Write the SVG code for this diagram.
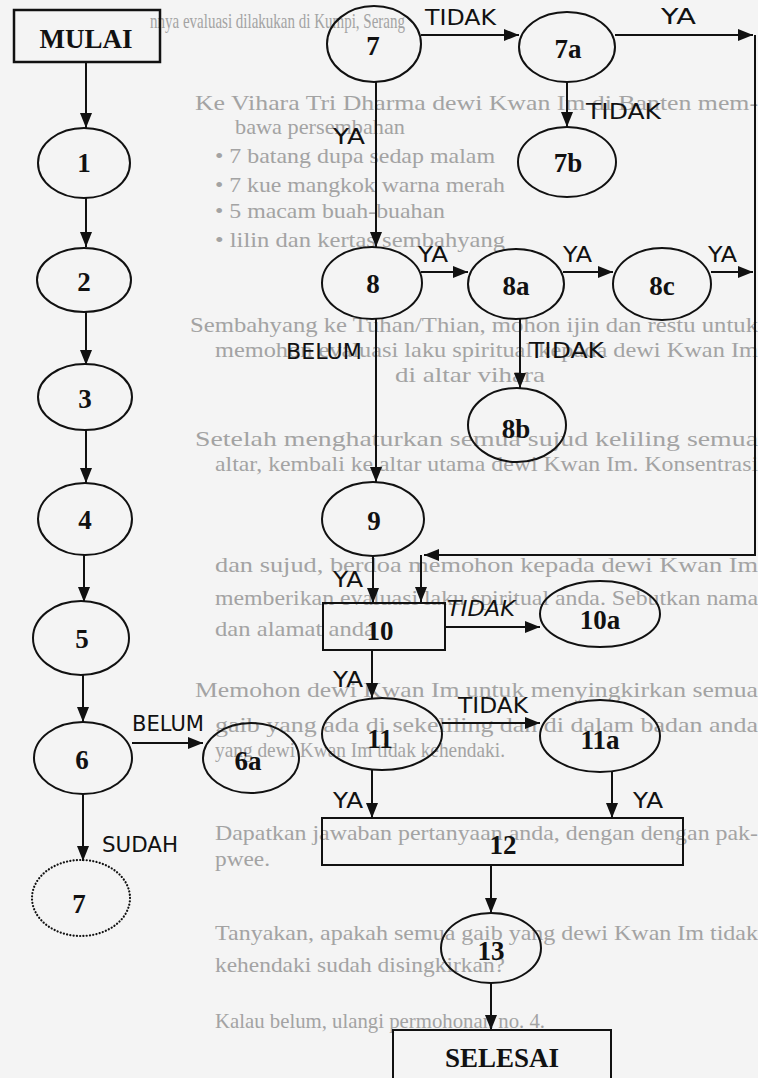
<svg xmlns="http://www.w3.org/2000/svg" width="758" height="1078" viewBox="0 0 758 1078">
<style>
.bgm{font-family:"Liberation Serif",serif;font-size:22px;fill:#a3a3a3}
.n{fill:none;stroke:#111;stroke-width:2}
.nl{font-family:"Liberation Serif",serif;font-weight:bold;font-size:27px;fill:#111;text-anchor:middle}
.el{font-family:"DejaVu Sans",sans-serif;font-size:22px;fill:#111}
.c{fill:none;stroke:#111;stroke-width:2}
</style>
<defs>
<marker id="ah" markerUnits="userSpaceOnUse" markerWidth="16" markerHeight="12" refX="15" refY="6" orient="auto">
<path d="M0,0 L15,6 L0,12 z" fill="#111"/>
</marker>
</defs>
<rect x="0" y="0" width="758" height="1078" fill="#f4f4f4"/>
<g id="bleed-through">
<text class="bgm" x="150" y="28" textLength="255" lengthAdjust="spacingAndGlyphs">nnya evaluasi dilakukan di Kumpi, Serang</text>
<text class="bgm" x="195" y="110" textLength="563" lengthAdjust="spacingAndGlyphs">Ke Vihara Tri Dharma dewi Kwan Im di Banten mem-</text>
<text class="bgm" x="235" y="134" textLength="170" lengthAdjust="spacingAndGlyphs">bawa persembahan</text>
<text class="bgm" x="215" y="163" textLength="280" lengthAdjust="spacingAndGlyphs">• 7 batang dupa sedap malam</text>
<text class="bgm" x="215" y="192" textLength="290" lengthAdjust="spacingAndGlyphs">• 7 kue mangkok warna merah</text>
<text class="bgm" x="215" y="218" textLength="230" lengthAdjust="spacingAndGlyphs">• 5 macam buah-buahan</text>
<text class="bgm" x="215" y="247" textLength="290" lengthAdjust="spacingAndGlyphs">• lilin dan kertas sembahyang</text>
<text class="bgm" x="190" y="332" textLength="568" lengthAdjust="spacingAndGlyphs">Sembahyang ke Tuhan/Thian, mohon ijin dan restu untuk</text>
<text class="bgm" x="215" y="357" textLength="543" lengthAdjust="spacingAndGlyphs">memohon evaluasi laku spiritual kepada dewi Kwan Im</text>
<text class="bgm" x="395" y="382" textLength="150" lengthAdjust="spacingAndGlyphs">di altar vihara</text>
<text class="bgm" x="195" y="446" textLength="563" lengthAdjust="spacingAndGlyphs">Setelah menghaturkan semua sujud keliling semua</text>
<text class="bgm" x="215" y="471" textLength="543" lengthAdjust="spacingAndGlyphs">altar, kembali ke altar utama dewi Kwan Im. Konsentrasi</text>
<text class="bgm" x="215" y="572" textLength="543" lengthAdjust="spacingAndGlyphs">dan sujud, berdoa memohon kepada dewi Kwan Im</text>
<text class="bgm" x="215" y="605" textLength="543" lengthAdjust="spacingAndGlyphs">memberikan evaluasi laku spiritual anda. Sebutkan nama</text>
<text class="bgm" x="215" y="636" textLength="160" lengthAdjust="spacingAndGlyphs">dan alamat anda</text>
<text class="bgm" x="195" y="697" textLength="563" lengthAdjust="spacingAndGlyphs">Memohon dewi Kwan Im untuk menyingkirkan semua</text>
<text class="bgm" x="215" y="732" textLength="543" lengthAdjust="spacingAndGlyphs">gaib yang ada di sekeliling dan di dalam badan anda</text>
<text class="bgm" x="215" y="757" textLength="290" lengthAdjust="spacingAndGlyphs">yang dewi Kwan Im tidak kehendaki.</text>
<text class="bgm" x="215" y="840" textLength="543" lengthAdjust="spacingAndGlyphs">Dapatkan jawaban pertanyaan anda, dengan dengan pak-</text>
<text class="bgm" x="215" y="866" textLength="55" lengthAdjust="spacingAndGlyphs">pwee.</text>
<text class="bgm" x="215" y="940" textLength="543" lengthAdjust="spacingAndGlyphs">Tanyakan, apakah semua gaib yang dewi Kwan Im tidak</text>
<text class="bgm" x="215" y="972" textLength="290" lengthAdjust="spacingAndGlyphs">kehendaki sudah disingkirkan?</text>
<text class="bgm" x="215" y="1028" textLength="330" lengthAdjust="spacingAndGlyphs">Kalau belum, ulangi permohonan no. 4.</text>
</g>
<g id="connectors">
<line class="c" x1="86" y1="63" x2="86" y2="128" marker-end="url(#ah)"/>
<line class="c" x1="86" y1="198" x2="86" y2="247" marker-end="url(#ah)"/>
<line class="c" x1="86" y1="312" x2="86" y2="365" marker-end="url(#ah)"/>
<line class="c" x1="86" y1="430" x2="86" y2="483" marker-end="url(#ah)"/>
<line class="c" x1="84" y1="555" x2="84" y2="602" marker-end="url(#ah)"/>
<line class="c" x1="83" y1="675" x2="83" y2="722" marker-end="url(#ah)"/>
<line class="c" x1="132" y1="743" x2="203" y2="743" marker-end="url(#ah)"/>
<line class="c" x1="83" y1="794" x2="83" y2="861" marker-end="url(#ah)"/>
<line class="c" x1="421" y1="35" x2="519" y2="35" marker-end="url(#ah)"/>
<line class="c" x1="615" y1="35" x2="753" y2="35" marker-end="url(#ah)"/>
<line class="c" x1="567" y1="82" x2="567" y2="127" marker-end="url(#ah)"/>
<line class="c" x1="376" y1="82" x2="376" y2="247" marker-end="url(#ah)"/>
<line class="c" x1="421" y1="272" x2="468" y2="272" marker-end="url(#ah)"/>
<line class="c" x1="563" y1="272" x2="613" y2="272" marker-end="url(#ah)"/>
<line class="c" x1="711" y1="272" x2="753" y2="272" marker-end="url(#ah)"/>
<line class="c" x1="755" y1="35" x2="755" y2="556"/>
<line class="c" x1="755" y1="555" x2="424" y2="555" marker-end="url(#ah)"/>
<line class="c" x1="421" y1="555" x2="421" y2="602" marker-end="url(#ah)"/>
<line class="c" x1="520" y1="319" x2="520" y2="388" marker-end="url(#ah)"/>
<line class="c" x1="376" y1="319" x2="376" y2="482" marker-end="url(#ah)"/>
<line class="c" x1="373" y1="556" x2="373" y2="603" marker-end="url(#ah)"/>
<line class="c" x1="445" y1="627" x2="540" y2="627" marker-end="url(#ah)"/>
<line class="c" x1="372" y1="650" x2="372" y2="698" marker-end="url(#ah)"/>
<line class="c" x1="442" y1="723" x2="540" y2="723" marker-end="url(#ah)"/>
<line class="c" x1="372" y1="770" x2="372" y2="818" marker-end="url(#ah)"/>
<line class="c" x1="612" y1="772" x2="612" y2="818" marker-end="url(#ah)"/>
<line class="c" x1="491" y1="865" x2="491" y2="913" marker-end="url(#ah)"/>
<line class="c" x1="491" y1="983" x2="491" y2="1030" marker-end="url(#ah)"/>
<text class="el" x="425" y="25" textLength="71" lengthAdjust="spacingAndGlyphs">TIDAK</text>
<text class="el" x="661" y="24" textLength="35" lengthAdjust="spacingAndGlyphs">YA</text>
<text class="el" x="586" y="119" textLength="75" lengthAdjust="spacingAndGlyphs">TIDAK</text>
<text class="el" x="333" y="144" textLength="32" lengthAdjust="spacingAndGlyphs">YA</text>
<text class="el" x="418" y="262" textLength="30" lengthAdjust="spacingAndGlyphs">YA</text>
<text class="el" x="563" y="262" textLength="29" lengthAdjust="spacingAndGlyphs">YA</text>
<text class="el" x="708" y="262" textLength="29" lengthAdjust="spacingAndGlyphs">YA</text>
<text class="el" x="286" y="359" textLength="76" lengthAdjust="spacingAndGlyphs">BELUM</text>
<text class="el" x="529" y="358" textLength="75" lengthAdjust="spacingAndGlyphs">TIDAK</text>
<text class="el" x="333" y="587" textLength="30" lengthAdjust="spacingAndGlyphs">YA</text>
<text class="el" x="447" y="616" textLength="68" lengthAdjust="spacingAndGlyphs" font-style="italic">TIDAK</text>
<text class="el" x="333" y="687" textLength="30" lengthAdjust="spacingAndGlyphs">YA</text>
<text class="el" x="458" y="713" textLength="70" lengthAdjust="spacingAndGlyphs">TIDAK</text>
<text class="el" x="132" y="731" textLength="72" lengthAdjust="spacingAndGlyphs">BELUM</text>
<text class="el" x="333" y="808" textLength="30" lengthAdjust="spacingAndGlyphs">YA</text>
<text class="el" x="633" y="808" textLength="30" lengthAdjust="spacingAndGlyphs">YA</text>
<text class="el" x="102" y="852" textLength="76" lengthAdjust="spacingAndGlyphs">SUDAH</text>
</g>
<g id="mulai"><rect x="14" y="10" width="146" height="52" fill="none" stroke="#111" stroke-width="2.5"/><text class="nl" x="86" y="48" font-size="24">MULAI</text></g>
<g id="n1"><ellipse class="n" cx="84" cy="163" rx="46" ry="35"/><text class="nl" x="84" y="172">1</text></g>
<g id="n2"><ellipse class="n" cx="84" cy="280" rx="47" ry="32"/><text class="nl" x="84" y="291">2</text></g>
<g id="n3"><ellipse class="n" cx="85" cy="397" rx="47" ry="33"/><text class="nl" x="85" y="408">3</text></g>
<g id="n4"><ellipse class="n" cx="85" cy="519" rx="47" ry="36"/><text class="nl" x="85" y="529">4</text></g>
<g id="n5"><ellipse class="n" cx="81" cy="638" rx="48" ry="37"/><text class="nl" x="82" y="648">5</text></g>
<g id="n6"><ellipse class="n" cx="83" cy="758" rx="49" ry="36"/><text class="nl" x="82" y="769">6</text></g>
<g id="n6a"><ellipse class="n" cx="251" cy="758" rx="48" ry="35"/><text class="nl" x="248" y="770">6a</text></g>
<g id="n7-dotted"><ellipse cx="81" cy="898" rx="49" ry="38" fill="none" stroke="#111" stroke-width="2.2" stroke-dasharray="0.1 3.2" stroke-linecap="round"/><text class="nl" x="79" y="913">7</text></g>
<g id="n7"><ellipse class="n" cx="374" cy="44" rx="47" ry="38"/><text class="nl" x="373" y="55">7</text></g>
<g id="n7a"><ellipse class="n" cx="567" cy="47" rx="48" ry="35"/><text class="nl" x="568" y="58">7a</text></g>
<g id="n7b"><ellipse class="n" cx="567" cy="162" rx="49" ry="35"/><text class="nl" x="568" y="172">7b</text></g>
<g id="n8"><ellipse class="n" cx="372" cy="283" rx="50" ry="36"/><text class="nl" x="373" y="293">8</text></g>
<g id="n8a"><ellipse class="n" cx="516" cy="284" rx="48" ry="35"/><text class="nl" x="516" y="295">8a</text></g>
<g id="n8c"><ellipse class="n" cx="662" cy="284" rx="49" ry="36"/><text class="nl" x="662" y="295">8c</text></g>
<g id="n8b"><ellipse class="n" cx="517" cy="425" rx="49" ry="37"/><text class="nl" x="516" y="438">8b</text></g>
<g id="n9"><ellipse class="n" cx="373" cy="519" rx="51" ry="37"/><text class="nl" x="374" y="530">9</text></g>
<g id="n10"><rect x="323" y="603" width="122" height="47" fill="none" stroke="#111" stroke-width="2"/><text class="nl" x="380" y="640">10</text></g>
<g id="n10a"><ellipse class="n" cx="600" cy="614" rx="60" ry="33"/><text class="nl" x="600" y="629">10a</text></g>
<g id="n11"><ellipse class="n" cx="382" cy="734" rx="60" ry="36"/><text class="nl" x="380" y="748">11</text></g>
<g id="n11a"><ellipse class="n" cx="600" cy="736" rx="60" ry="36"/><text class="nl" x="600" y="749">11a</text></g>
<g id="n12"><rect x="322" y="818" width="361" height="47" fill="none" stroke="#111" stroke-width="2"/><text class="nl" x="503" y="854">12</text></g>
<g id="n13"><ellipse class="n" cx="491" cy="948" rx="50" ry="35"/><text class="nl" x="491" y="960">13</text></g>
<g id="selesai"><rect x="393" y="1030" width="218" height="60" fill="none" stroke="#111" stroke-width="2"/><text class="nl" x="502" y="1067" font-size="25">SELESAI</text></g>
</svg>
